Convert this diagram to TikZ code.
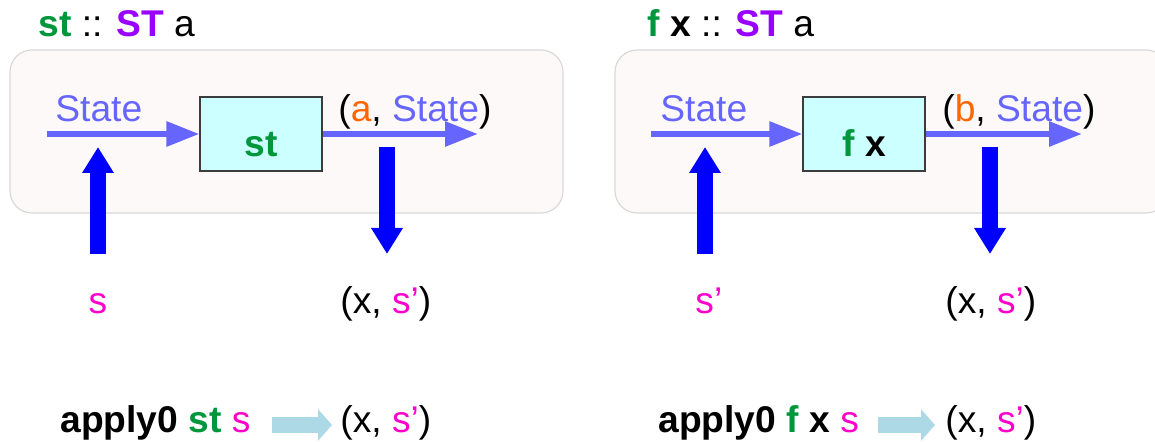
\documentclass[tikz,border=0pt]{standalone}
\usepackage{fontspec}
\setmainfont{Liberation Sans}
\usetikzlibrary{arrows.meta}
\definecolor{stgreen}{HTML}{00963C}
\definecolor{stpurple}{HTML}{9900FF}
\definecolor{storange}{HTML}{FF6600}
\definecolor{stviolet}{HTML}{6666FF}
\definecolor{stmag}{HTML}{FF00CC}
\definecolor{panelfill}{HTML}{FDF9F9}
\definecolor{panelline}{HTML}{D9D9D9}
\definecolor{boxfill}{HTML}{CCFFFF}
\definecolor{boxline}{HTML}{3C3C3C}
\definecolor{flowblue}{HTML}{ADD8E6}
\begin{document}
\begin{tikzpicture}[x=0.5pt,y=-0.5pt,
  txt/.style={font=\fontsize{18.6}{21}\selectfont, inner sep=0pt, anchor=base west},
  panel/.style={draw=panelline, fill=panelfill, rounded corners=11pt, line width=0.6pt},
  fn/.style={draw=boxline, fill=boxfill, line width=0.6pt, minimum width=61pt, minimum height=37pt, inner sep=0pt},
  stateflow/.style={stviolet, line width=3pt, -{Triangle[length=16.5pt,width=12pt]}},
  ioflow/.style={blue, line width=8pt, -{Triangle[length=13pt,width=15pt]}},
  result/.style={flowblue, line width=8pt, -{Triangle[length=7pt,width=15.5pt]}},
]
\clip (0,0) rectangle (1155,442);

% ---- left: st :: ST a ----
\node[txt] (titleL) at (38,37) {\textbf{\textcolor{stgreen}{st}} :: \textbf{\textcolor{stpurple}{ST}} a};
\draw[panel] (10,50) rectangle (563,213);
\node[fn] (boxL) at (261,134) {};
\node[txt, anchor=base] (boxLlbl) at (261,157) {\textbf{\textcolor{stgreen}{st}}};
\node[txt] (stateL) at (55,122) {\textcolor{stviolet}{State}};
\node[txt] (pairL) at (338,122) {(\textcolor{storange}{a}, \textcolor{stviolet}{State})};
\coordinate (inL) at (47,134);
\coordinate (outL) at (478,134);
\draw[stateflow] (inL) -- (boxL.west);
\draw[stateflow] (boxL.east) -- (outL);
\coordinate (upLa) at (98,254);
\coordinate (upLb) at (98,147);
\draw[ioflow] (upLa) -- (upLb);
\coordinate (dnLa) at (387,147);
\coordinate (dnLb) at (387,254);
\draw[ioflow] (dnLa) -- (dnLb);
\node[txt, anchor=base] (sL) at (98,314) {\textcolor{stmag}{s}};
\node[txt] (resL) at (340,314) {(x, \textcolor{stmag}{s’})};
\node[txt] (appL) at (60,433) {\textbf{apply0 \textcolor{stgreen}{st}} \textcolor{stmag}{s}};
\coordinate (arLa) at (272,425);
\coordinate (arLb) at (332,425);
\draw[result] (arLa) -- (arLb);
\node[txt] (appresL) at (340,433) {(x, \textcolor{stmag}{s’})};

% ---- right: f x :: ST a ----
\begin{scope}[xshift=302pt]
\node[txt] (titleR) at (43,37) {\textbf{\textcolor{stgreen}{f} x} :: \textbf{\textcolor{stpurple}{ST}} a};
\draw[panel] (11,50) rectangle (564,213);
\node[fn] (boxR) at (260,134) {};
\node[txt, anchor=base] (boxRlbl) at (260,157) {\textbf{\textcolor{stgreen}{f} x}};
\node[txt] (stateR) at (56,122) {\textcolor{stviolet}{State}};
\node[txt] (pairR) at (338,122) {(\textcolor{storange}{b}, \textcolor{stviolet}{State})};
\coordinate (inR) at (47,134);
\coordinate (outR) at (478,134);
\draw[stateflow] (inR) -- (boxR.west);
\draw[stateflow] (boxR.east) -- (outR);
\coordinate (upRa) at (101,254);
\coordinate (upRb) at (101,147);
\draw[ioflow] (upRa) -- (upRb);
\coordinate (dnRa) at (386,147);
\coordinate (dnRb) at (386,254);
\draw[ioflow] (dnRa) -- (dnRb);
\node[txt] (sR) at (91,314) {\textcolor{stmag}{s’}};
\node[txt] (resR) at (341,314) {(x, \textcolor{stmag}{s’})};
\node[txt] (appR) at (54,433) {\textbf{apply0 \textcolor{stgreen}{f} x} \textcolor{stmag}{s}};
\coordinate (arRa) at (274,425);
\coordinate (arRb) at (331,425);
\draw[result] (arRa) -- (arRb);
\node[txt] (appresR) at (341,433) {(x, \textcolor{stmag}{s’})};
\end{scope}
\end{tikzpicture}
\end{document}
